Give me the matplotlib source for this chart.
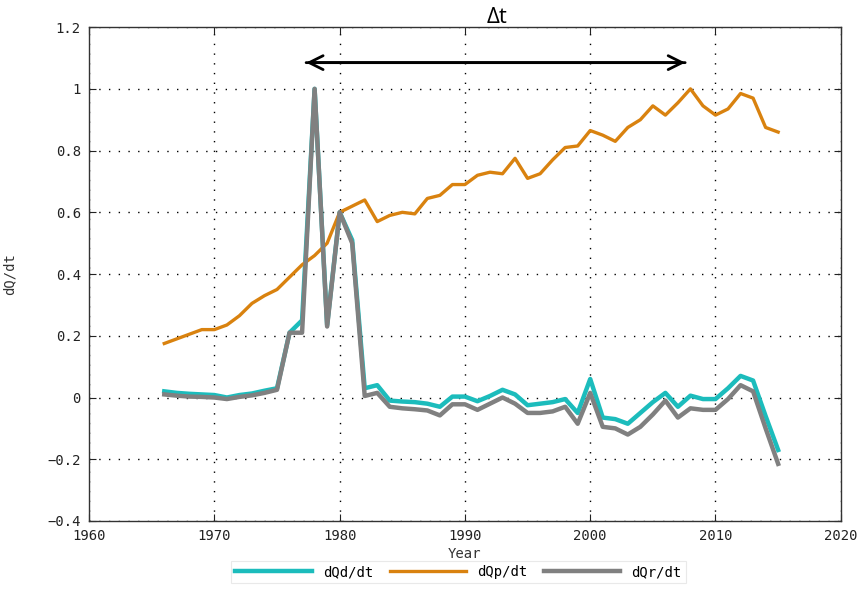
import numpy as np
from matplotlib import pyplot as plt

years = np.arange(1966, 2016)

dQd = [0.02, 0.015, 0.012, 0.01, 0.008, 0.0, 0.008, 0.013, 0.022, 0.03,
       0.21, 0.25, 1.0, 0.235, 0.6, 0.51, 0.03, 0.04, -0.01, -0.013,
       -0.015, -0.02, -0.03, 0.003, 0.003, -0.012, 0.005, 0.025, 0.01, -0.025,
       -0.02, -0.015, -0.005, -0.05, 0.06, -0.065, -0.07, -0.085, -0.05, -0.015,
       0.015, -0.03, 0.006, -0.005, -0.005, 0.03, 0.07, 0.055, -0.06, -0.17]

dQp = [0.175, 0.19, 0.205, 0.22, 0.22, 0.235, 0.265, 0.305, 0.33, 0.35,
       0.39, 0.43, 0.46, 0.5, 0.6, 0.62, 0.64, 0.57, 0.59, 0.6,
       0.595, 0.645, 0.655, 0.69, 0.69, 0.72, 0.73, 0.725, 0.775, 0.71,
       0.725, 0.77, 0.81, 0.815, 0.865, 0.85, 0.83, 0.875, 0.9, 0.945,
       0.915, 0.955, 1.0, 0.945, 0.915, 0.935, 0.985, 0.97, 0.875, 0.86]

dQr = [0.01, 0.006, 0.003, 0.002, 0.0, -0.005, 0.002, 0.007, 0.015, 0.025,
       0.21, 0.21, 1.0, 0.23, 0.6, 0.5, 0.005, 0.015, -0.03, -0.035,
       -0.038, -0.042, -0.058, -0.022, -0.022, -0.04, -0.02, 0.0, -0.02, -0.05,
       -0.05, -0.045, -0.03, -0.085, 0.015, -0.095, -0.1, -0.12, -0.095, -0.055,
       -0.01, -0.065, -0.035, -0.04, -0.04, -0.005, 0.04, 0.02, -0.1, -0.215]

tick_font = {'family': 'DejaVu Sans Mono', 'size': 10}

fig = plt.figure(figsize=(8.65, 5.9), dpi=100)
ax = fig.add_axes([0.103, 0.117, 0.869, 0.837])

l1, = ax.plot(years, dQd, color='#1cbcbc', lw=3.2, label='dQd/dt')
l2, = ax.plot(years, dQp, color='#d9820f', lw=2.4, label='dQp/dt')
l3, = ax.plot(years, dQr, color='#808080', lw=3.2, label='dQr/dt')

ax.set_xlim(1960, 2020)
ax.set_ylim(-0.4, 1.2)
ax.set_xticks(np.arange(1960, 2021, 10))
ax.set_yticks(np.arange(-0.4, 1.21, 0.2))
ax.set_yticklabels(['\u22120.4', '\u22120.2', '0', '0.2', '0.4', '0.6', '0.8', '1', '1.2'])
for lab in ax.get_xticklabels() + ax.get_yticklabels():
    lab.set_fontfamily(tick_font['family'])
    lab.set_fontsize(tick_font['size'])
    lab.set_color('#333333')
ax.tick_params(direction='in', top=True, right=True, length=5, width=0.8,
               colors='#222222', pad=6)
ax.grid(True, color='black', linestyle=(0, (1, 6)), linewidth=1.0)
for s in ax.spines.values():
    s.set_color('#333333')
    s.set_linewidth(1.0)

ax.set_xlabel('Year', fontdict=tick_font, labelpad=3, color='#333333')
ax.set_ylabel('dQ/dt', fontdict=tick_font, labelpad=22, color='#333333')

# delta t arrow
ax.annotate('', xy=(1977.1, 1.085), xytext=(2007.8, 1.085),
            arrowprops=dict(arrowstyle='->, head_length=1.0, head_width=0.5', color='black', lw=2))
ax.annotate('', xy=(2007.8, 1.085), xytext=(1977.1, 1.085),
            arrowprops=dict(arrowstyle='->, head_length=1.0, head_width=0.5', color='black', lw=2))
fig.text(0.575, 0.97, '\u0394t', ha='center', va='center', fontsize=16, family='Open Sans')

leg = fig.legend(handles=[l1, l2, l3], loc='lower center', ncol=3, bbox_to_anchor=(0.53, 0.0),
                 prop=tick_font, frameon=True, fancybox=False, handlelength=5.5,
                 handletextpad=0.8, columnspacing=1.2, borderpad=0.3)
leg.get_frame().set_edgecolor('#e4e4e4')
leg.get_frame().set_linewidth(0.8)

plt.savefig('out.png', dpi=100)
